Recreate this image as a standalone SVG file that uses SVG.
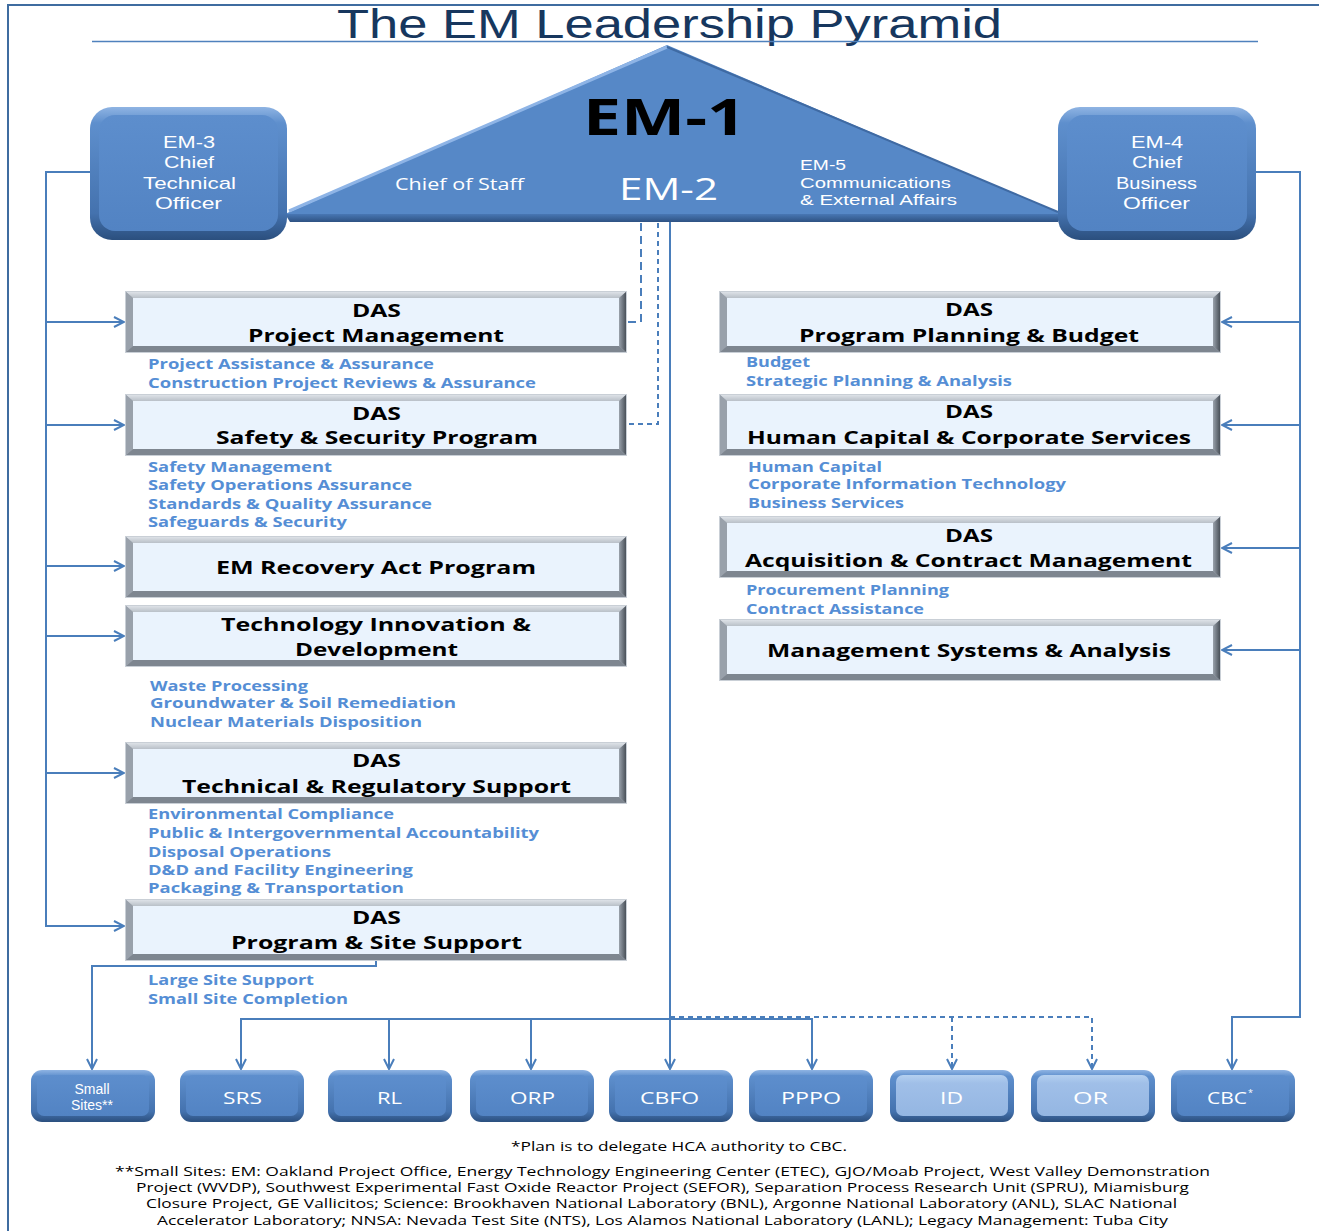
<svg xmlns="http://www.w3.org/2000/svg" xmlns:xlink="http://www.w3.org/1999/xlink" width="1319" height="1231" viewBox="0 0 1319 1231">
  <style>
    .ttl { font-family: "Liberation Sans", "Open Sans", sans-serif; font-size: 41px; fill: #17375E; }
    .wt { font-family: "Open Sans", "Liberation Sans", sans-serif; fill: #FFFFFF; }
    .wl { font-family: "Liberation Sans", "Open Sans", sans-serif; fill: #FFFFFF; }
    .hd { font-family: "Open Sans", "Liberation Sans", sans-serif; font-weight: bold; font-size: 18px; fill: #000000; }
    .sub { font-family: "Open Sans", "Liberation Sans", sans-serif; font-weight: bold; font-size: 14px; fill: #558ED5; }
    .fn { font-family: "Open Sans", "Liberation Sans", sans-serif; font-size: 13px; fill: #000000; }
    .ln { fill: none; stroke: #4A7EBB; stroke-width: 2; }
    .dash1 { fill: none; stroke: #4A7EBB; stroke-width: 2; stroke-dasharray: 8 5; }
    .dash2 { fill: none; stroke: #4A7EBB; stroke-width: 2; stroke-dasharray: 5 4; }
  </style>
  <defs>
    <marker id="arr" viewBox="0 0 12 12" refX="11" refY="6" markerWidth="12" markerHeight="12" markerUnits="userSpaceOnUse" orient="auto">
      <path d="M1,1 L11,6 L1,11" fill="none" stroke="#4A7EBB" stroke-width="2"/>
    </marker>
    <linearGradient id="gEdge" x1="0" y1="0" x2="0" y2="1">
      <stop offset="0" stop-color="#8FB4E3"/>
      <stop offset="0.12" stop-color="#5E8FCD"/>
      <stop offset="0.8" stop-color="#4472AE"/>
      <stop offset="1" stop-color="#2B4F7E"/>
    </linearGradient>
    <linearGradient id="gCore" x1="0" y1="0" x2="0" y2="1">
      <stop offset="0" stop-color="#5D8ECD"/>
      <stop offset="1" stop-color="#5283C3"/>
    </linearGradient>
    <linearGradient id="gCoreLight" x1="0" y1="0" x2="0" y2="1">
      <stop offset="0" stop-color="#B4D0F0"/>
      <stop offset="0.2" stop-color="#A0BFE8"/>
      <stop offset="1" stop-color="#94B6E2"/>
    </linearGradient>
    <linearGradient id="gRight" x1="0" y1="0" x2="1" y2="0">
      <stop offset="0" stop-color="#9AA2AC"/>
      <stop offset="1" stop-color="#3E454D"/>
    </linearGradient>
    <linearGradient id="gTop" x1="0" y1="0" x2="0" y2="1">
      <stop offset="0" stop-color="#E3E7EC"/>
      <stop offset="1" stop-color="#B9C0C8"/>
    </linearGradient>
    <linearGradient id="gBase" x1="0" y1="0" x2="0" y2="1">
      <stop offset="0" stop-color="#4877B4"/>
      <stop offset="1" stop-color="#2E5283"/>
    </linearGradient>
    <!-- grey bevelled frame shared by all DAS / office boxes -->
    <g id="dasFrame">
      <rect x="0" y="0" width="502" height="62" fill="#AEB5BE"/>
      <polygon points="0,0 502,0 494,7 8,7" fill="url(#gTop)"/>
      <polygon points="0,0 8,7 8,55 0,62" fill="#99A1AB"/>
      <polygon points="502,0 502,62 494,55 494,7" fill="url(#gRight)"/>
      <polygon points="0,62 8,55 494,55 502,62" fill="#7E8690"/>
      <rect x="8" y="7" width="486" height="48" fill="#EAF3FD"/>
      <rect x="0.5" y="0.5" width="501" height="61" fill="none" stroke="#C9CFD6" stroke-width="1"/>
    </g>
    <!-- blue field-office tiles -->
    <g id="pillDark">
      <rect x="0" y="0" width="124" height="52" rx="11" fill="url(#gEdge)"/>
      <rect x="6" y="5" width="112" height="41" rx="7" fill="url(#gCore)"/>
    </g>
    <g id="pillLight">
      <rect x="0" y="0" width="124" height="52" rx="11" fill="url(#gEdge)"/>
      <rect x="6" y="5" width="112" height="41" rx="7" fill="url(#gCoreLight)"/>
    </g>
  </defs>

  <rect x="0" y="0" width="1319" height="1231" fill="#FFFFFF"/>
  <!-- page frame -->
  <path d="M8,1231 V5 H1319" fill="none" stroke="#3F6CA0" stroke-width="2"/>

  <!-- heading -->
  <g id="title">
    <text class="ttl" x="337" y="38" textLength="665" lengthAdjust="spacingAndGlyphs">The EM Leadership Pyramid</text>
    <line x1="92" y1="41.5" x2="1258" y2="41.5" stroke="#4F81BD" stroke-width="1.5"/>
  </g>

  <!-- connectors -->
  <g id="connectors">
    <!-- EM-3 trunk -->
    <path class="ln" d="M90,172 H46 V926 H124" marker-end="url(#arr)"/>
    <path class="ln" d="M46,322 H124" marker-end="url(#arr)"/>
    <path class="ln" d="M46,425 H124" marker-end="url(#arr)"/>
    <path class="ln" d="M46,566 H124" marker-end="url(#arr)"/>
    <path class="ln" d="M46,636 H124" marker-end="url(#arr)"/>
    <path class="ln" d="M46,773 H124" marker-end="url(#arr)"/>
    <!-- EM-4 trunk -->
    <path class="ln" d="M1256,172 H1300 V1017 H1232 V1069" marker-end="url(#arr)"/>
    <path class="ln" d="M1300,322 H1222" marker-end="url(#arr)"/>
    <path class="ln" d="M1300,425 H1222" marker-end="url(#arr)"/>
    <path class="ln" d="M1300,548 H1222" marker-end="url(#arr)"/>
    <path class="ln" d="M1300,650 H1222" marker-end="url(#arr)"/>
    <!-- dashed links from the front office -->
    <path class="dash1" d="M641,223 V322 H628"/>
    <path class="dash2" d="M658,223 V424 H628"/>
    <!-- EM-2 line to field offices -->
    <path class="ln" d="M670,222 V1069" marker-end="url(#arr)"/>
    <path class="ln" d="M241,1069 V1019 H812 V1069" marker-end="url(#arr)"/>
    <path class="ln" d="M389,1019 V1069" marker-end="url(#arr)"/>
    <path class="ln" d="M531,1019 V1069" marker-end="url(#arr)"/>
    <path class="ln" d="M241,1019 V1069" marker-end="url(#arr)"/>
    <path class="dash2" d="M670,1017 H1092 V1069" marker-end="url(#arr)"/>
    <path class="dash2" d="M952,1017 V1069" marker-end="url(#arr)"/>
    <!-- program & site support to small sites -->
    <path class="ln" d="M376,961 V966 H92 V1069" marker-end="url(#arr)"/>
  </g>

  <!-- pyramid: EM-1 / EM-2 / chief of staff / EM-5 -->
  <g id="pyramid">
    <polygon points="667,45 1062,214 285,214" fill="#5688C7"/>
    <polygon points="285,214 1062,214 1058,222 290,222" fill="url(#gBase)"/>
    <polyline points="289,211 667,47" fill="none" stroke="#8EB4E6" stroke-width="3"/>
    <polyline points="667,47 1058,212" fill="none" stroke="#3F6AA3" stroke-width="2"/>
    <text x="583" y="135" font-family="'Open Sans', 'Liberation Sans', sans-serif" font-weight="bold" font-size="50" fill="#000000" textLength="163" lengthAdjust="spacingAndGlyphs">EM-1</text>
    <text class="wt" x="395" y="190" font-size="17" textLength="129" lengthAdjust="spacingAndGlyphs">Chief of Staff</text>
    <text class="wt" x="619" y="200" font-size="31" textLength="99" lengthAdjust="spacingAndGlyphs">EM-2</text>
    <text class="wl" x="800" y="170" font-size="14" textLength="46" lengthAdjust="spacingAndGlyphs">EM-5</text>
    <text class="wl" x="800" y="188" font-size="14" textLength="151" lengthAdjust="spacingAndGlyphs">Communications</text>
    <text class="wl" x="800" y="205" font-size="14" textLength="157" lengthAdjust="spacingAndGlyphs">&amp; External Affairs</text>
  </g>

  <!-- EM-3 -->
  <g id="em3">
    <rect x="90" y="107" width="197" height="133" rx="22" fill="url(#gEdge)"/>
    <rect x="99" y="115" width="179" height="116" rx="16" fill="url(#gCore)"/>
    <text class="wl" x="163" y="148" font-size="17" textLength="52" lengthAdjust="spacingAndGlyphs">EM-3</text>
    <text class="wl" x="164" y="168" font-size="17" textLength="50" lengthAdjust="spacingAndGlyphs">Chief</text>
    <text class="wl" x="143" y="189" font-size="17" textLength="93" lengthAdjust="spacingAndGlyphs">Technical</text>
    <text class="wl" x="155" y="209" font-size="17" textLength="67" lengthAdjust="spacingAndGlyphs">Officer</text>
  </g>

  <!-- EM-4 -->
  <g id="em4">
    <rect x="1058" y="107" width="198" height="133" rx="22" fill="url(#gEdge)"/>
    <rect x="1067" y="115" width="180" height="116" rx="16" fill="url(#gCore)"/>
    <text class="wl" x="1131" y="148" font-size="17" textLength="52" lengthAdjust="spacingAndGlyphs">EM-4</text>
    <text class="wl" x="1132" y="168" font-size="17" textLength="50" lengthAdjust="spacingAndGlyphs">Chief</text>
    <text class="wl" x="1116" y="189" font-size="17" textLength="81" lengthAdjust="spacingAndGlyphs">Business</text>
    <text class="wl" x="1123" y="209" font-size="17" textLength="67" lengthAdjust="spacingAndGlyphs">Officer</text>
  </g>

  <!-- left column -->
  <g id="das-pm">
    <use xlink:href="#dasFrame" href="#dasFrame" x="125" y="291"/>
    <text class="hd" x="352" y="317" textLength="49" lengthAdjust="spacingAndGlyphs">DAS</text>
    <text class="hd" x="248" y="342" textLength="256" lengthAdjust="spacingAndGlyphs">Project Management</text>
    <text class="sub" x="148" y="369" textLength="286" lengthAdjust="spacingAndGlyphs">Project Assistance &amp; Assurance</text>
    <text class="sub" x="148" y="388" textLength="388" lengthAdjust="spacingAndGlyphs">Construction Project Reviews &amp; Assurance</text>
  </g>
  <g id="das-ss">
    <use xlink:href="#dasFrame" href="#dasFrame" x="125" y="394"/>
    <text class="hd" x="352" y="420" textLength="49" lengthAdjust="spacingAndGlyphs">DAS</text>
    <text class="hd" x="216" y="444" textLength="322" lengthAdjust="spacingAndGlyphs">Safety &amp; Security Program</text>
    <text class="sub" x="148" y="472" textLength="184" lengthAdjust="spacingAndGlyphs">Safety Management</text>
    <text class="sub" x="148" y="490" textLength="264" lengthAdjust="spacingAndGlyphs">Safety Operations Assurance</text>
    <text class="sub" x="148" y="509" textLength="284" lengthAdjust="spacingAndGlyphs">Standards &amp; Quality Assurance</text>
    <text class="sub" x="148" y="527" textLength="199" lengthAdjust="spacingAndGlyphs">Safeguards &amp; Security</text>
  </g>
  <g id="recovery">
    <use xlink:href="#dasFrame" href="#dasFrame" x="125" y="536"/>
    <text class="hd" x="216" y="574" textLength="320" lengthAdjust="spacingAndGlyphs">EM Recovery Act Program</text>
  </g>
  <g id="tech-innov">
    <use xlink:href="#dasFrame" href="#dasFrame" x="125" y="605"/>
    <text class="hd" x="221" y="631" textLength="310" lengthAdjust="spacingAndGlyphs">Technology Innovation &amp;</text>
    <text class="hd" x="295" y="656" textLength="163" lengthAdjust="spacingAndGlyphs">Development</text>
    <text class="sub" x="150" y="691" textLength="158" lengthAdjust="spacingAndGlyphs">Waste Processing</text>
    <text class="sub" x="150" y="708" textLength="306" lengthAdjust="spacingAndGlyphs">Groundwater &amp; Soil Remediation</text>
    <text class="sub" x="150" y="727" textLength="272" lengthAdjust="spacingAndGlyphs">Nuclear Materials Disposition</text>
  </g>
  <g id="das-trs">
    <use xlink:href="#dasFrame" href="#dasFrame" x="125" y="742"/>
    <text class="hd" x="352" y="767" textLength="49" lengthAdjust="spacingAndGlyphs">DAS</text>
    <text class="hd" x="182" y="793" textLength="389" lengthAdjust="spacingAndGlyphs">Technical &amp; Regulatory Support</text>
    <text class="sub" x="148" y="819" textLength="246" lengthAdjust="spacingAndGlyphs">Environmental Compliance</text>
    <text class="sub" x="148" y="838" textLength="391" lengthAdjust="spacingAndGlyphs">Public &amp; Intergovernmental Accountability</text>
    <text class="sub" x="148" y="857" textLength="183" lengthAdjust="spacingAndGlyphs">Disposal Operations</text>
    <text class="sub" x="148" y="875" textLength="265" lengthAdjust="spacingAndGlyphs">D&amp;D and Facility Engineering</text>
    <text class="sub" x="148" y="893" textLength="256" lengthAdjust="spacingAndGlyphs">Packaging &amp; Transportation</text>
  </g>
  <g id="das-pss">
    <use xlink:href="#dasFrame" href="#dasFrame" x="125" y="899"/>
    <text class="hd" x="352" y="924" textLength="49" lengthAdjust="spacingAndGlyphs">DAS</text>
    <text class="hd" x="231" y="949" textLength="291" lengthAdjust="spacingAndGlyphs">Program &amp; Site Support</text>
    <text class="sub" x="148" y="985" textLength="166" lengthAdjust="spacingAndGlyphs">Large Site Support</text>
    <text class="sub" x="148" y="1004" textLength="200" lengthAdjust="spacingAndGlyphs">Small Site Completion</text>
  </g>

  <!-- right column -->
  <g id="das-ppb">
    <use xlink:href="#dasFrame" href="#dasFrame" x="719" y="291"/>
    <text class="hd" x="945" y="316" textLength="48" lengthAdjust="spacingAndGlyphs">DAS</text>
    <text class="hd" x="799" y="342" textLength="340" lengthAdjust="spacingAndGlyphs">Program Planning &amp; Budget</text>
    <text class="sub" x="746" y="367" textLength="64" lengthAdjust="spacingAndGlyphs">Budget</text>
    <text class="sub" x="746" y="386" textLength="266" lengthAdjust="spacingAndGlyphs">Strategic Planning &amp; Analysis</text>
  </g>
  <g id="das-hccs">
    <use xlink:href="#dasFrame" href="#dasFrame" x="719" y="394"/>
    <text class="hd" x="945" y="418" textLength="48" lengthAdjust="spacingAndGlyphs">DAS</text>
    <text class="hd" x="747" y="444" textLength="444" lengthAdjust="spacingAndGlyphs">Human Capital &amp; Corporate Services</text>
    <text class="sub" x="748" y="472" textLength="134" lengthAdjust="spacingAndGlyphs">Human Capital</text>
    <text class="sub" x="748" y="489" textLength="318" lengthAdjust="spacingAndGlyphs">Corporate Information Technology</text>
    <text class="sub" x="748" y="508" textLength="156" lengthAdjust="spacingAndGlyphs">Business Services</text>
  </g>
  <g id="das-acm">
    <use xlink:href="#dasFrame" href="#dasFrame" x="719" y="516"/>
    <text class="hd" x="945" y="542" textLength="48" lengthAdjust="spacingAndGlyphs">DAS</text>
    <text class="hd" x="745" y="567" textLength="447" lengthAdjust="spacingAndGlyphs">Acquisition &amp; Contract Management</text>
    <text class="sub" x="746" y="595" textLength="203" lengthAdjust="spacingAndGlyphs">Procurement Planning</text>
    <text class="sub" x="746" y="614" textLength="178" lengthAdjust="spacingAndGlyphs">Contract Assistance</text>
  </g>
  <g id="msa">
    <use xlink:href="#dasFrame" href="#dasFrame" x="719" y="619"/>
    <text class="hd" x="767" y="657" textLength="404" lengthAdjust="spacingAndGlyphs">Management Systems &amp; Analysis</text>
  </g>

  <!-- field offices -->
  <g id="small-sites">
    <use xlink:href="#pillDark" href="#pillDark" x="31" y="1070"/>
    <text class="wl" x="92" y="1094" font-size="14" text-anchor="middle">Small</text>
    <text class="wl" x="92" y="1110" font-size="14" text-anchor="middle">Sites**</text>
  </g>
  <g id="srs">
    <use xlink:href="#pillDark" href="#pillDark" x="180" y="1070"/>
    <text class="wt" x="223" y="1104" font-size="17" textLength="39" lengthAdjust="spacingAndGlyphs">SRS</text>
  </g>
  <g id="rl">
    <use xlink:href="#pillDark" href="#pillDark" x="328" y="1070"/>
    <text class="wt" x="377" y="1104" font-size="17" textLength="25" lengthAdjust="spacingAndGlyphs">RL</text>
  </g>
  <g id="orp">
    <use xlink:href="#pillDark" href="#pillDark" x="470" y="1070"/>
    <text class="wt" x="510" y="1104" font-size="17" textLength="45" lengthAdjust="spacingAndGlyphs">ORP</text>
  </g>
  <g id="cbfo">
    <use xlink:href="#pillDark" href="#pillDark" x="609" y="1070"/>
    <text class="wt" x="640" y="1104" font-size="17" textLength="59" lengthAdjust="spacingAndGlyphs">CBFO</text>
  </g>
  <g id="pppo">
    <use xlink:href="#pillDark" href="#pillDark" x="749" y="1070"/>
    <text class="wt" x="781" y="1104" font-size="17" textLength="60" lengthAdjust="spacingAndGlyphs">PPPO</text>
  </g>
  <g id="id">
    <use xlink:href="#pillLight" href="#pillLight" x="890" y="1070"/>
    <text class="wt" x="940" y="1104" font-size="17" textLength="23" lengthAdjust="spacingAndGlyphs">ID</text>
  </g>
  <g id="or">
    <use xlink:href="#pillLight" href="#pillLight" x="1031" y="1070"/>
    <text class="wt" x="1073" y="1104" font-size="17" textLength="35" lengthAdjust="spacingAndGlyphs">OR</text>
  </g>
  <g id="cbc">
    <use xlink:href="#pillDark" href="#pillDark" x="1171" y="1070"/>
    <text class="wt" x="1207" y="1104" font-size="17" textLength="40" lengthAdjust="spacingAndGlyphs">CBC</text>
    <text class="wt" x="1248" y="1096" font-size="9">*</text>
  </g>

  <!-- footnotes -->
  <g id="notes">
    <text class="fn" x="511" y="1151" textLength="336" lengthAdjust="spacingAndGlyphs">*Plan is to delegate HCA authority to CBC.</text>
    <text class="fn" x="115" y="1176" textLength="1095" lengthAdjust="spacingAndGlyphs">**Small Sites:  EM: Oakland Project Office, Energy Technology Engineering Center (ETEC), GJO/Moab Project, West Valley Demonstration</text>
    <text class="fn" x="136" y="1192" textLength="1053" lengthAdjust="spacingAndGlyphs">Project (WVDP), Southwest Experimental Fast Oxide Reactor Project (SEFOR), Separation Process Research Unit (SPRU), Miamisburg</text>
    <text class="fn" x="146" y="1208" textLength="1031" lengthAdjust="spacingAndGlyphs">Closure Project, GE Vallicitos; Science: Brookhaven National Laboratory (BNL), Argonne National Laboratory (ANL), SLAC National</text>
    <text class="fn" x="157" y="1225" textLength="1011" lengthAdjust="spacingAndGlyphs">Accelerator Laboratory; NNSA: Nevada Test Site (NTS), Los Alamos National Laboratory (LANL); Legacy Management: Tuba City</text>
  </g>
</svg>
